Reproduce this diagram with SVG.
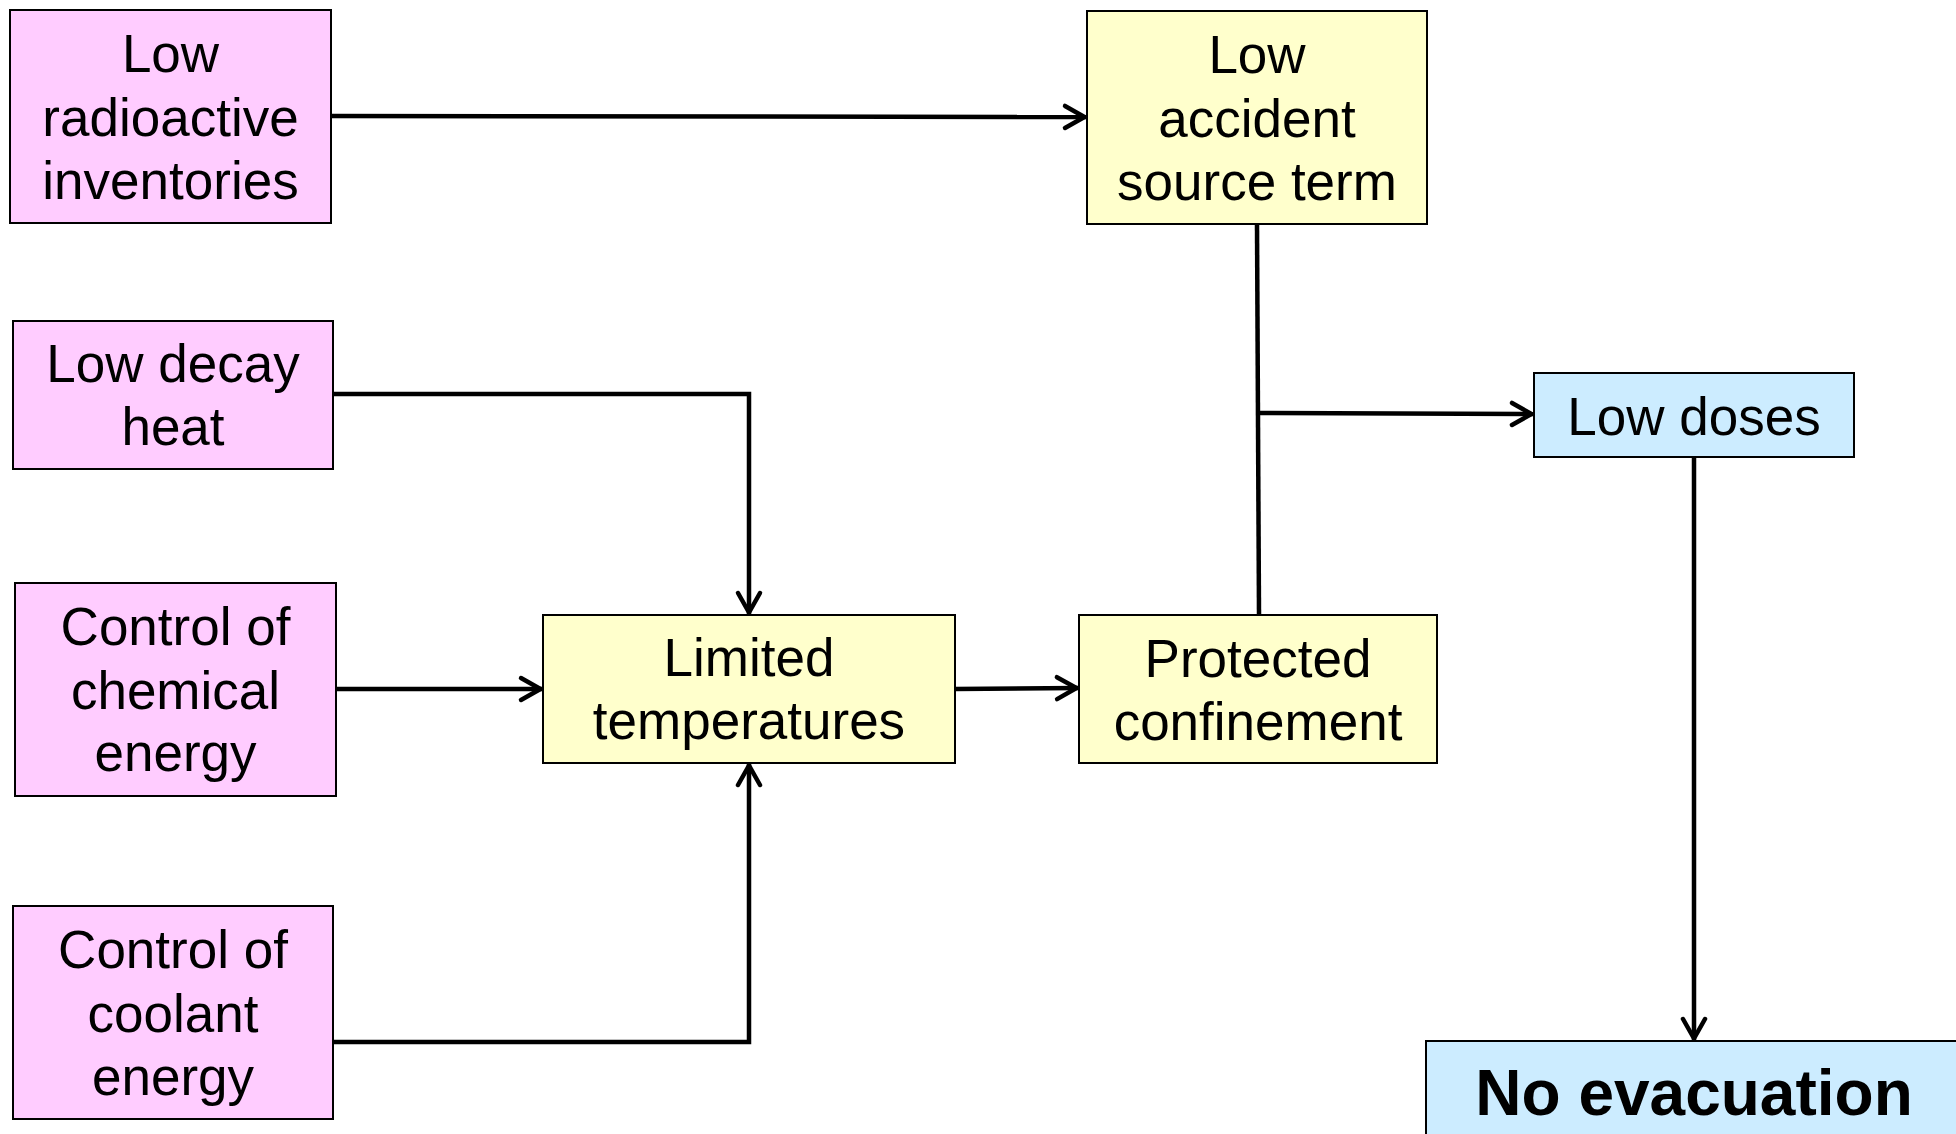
<svg xmlns="http://www.w3.org/2000/svg" width="1956" height="1134" viewBox="0 0 1956 1134">
<style>
.box{stroke:#000;stroke-width:2}
.pink{fill:#FFCCFF}
.yellow{fill:#FFFFCC}
.blue{fill:#CCECFF}
.t{font-family:"Liberation Sans",Arial,sans-serif;font-size:53px;fill:#000;text-anchor:middle}
.b{font-family:"Liberation Sans",Arial,sans-serif;font-size:64px;font-weight:bold;fill:#000;text-anchor:middle}
.c{fill:none;stroke:#000;stroke-width:4.5;stroke-linejoin:miter}
</style>
<defs>
<marker id="arr" markerUnits="userSpaceOnUse" viewBox="-28 -16 32 32" refX="0" refY="0" markerWidth="32" markerHeight="32" orient="auto" overflow="visible">
<path d="M-21,-11 L-1.5,0 L-21,11" fill="none" stroke="#000" stroke-width="4.5" stroke-linecap="round" stroke-linejoin="miter"/>
</marker>
</defs>
<rect width="1956" height="1134" fill="#fff"/>
<g id="connectors">
<path class="c" d="M331,116 L1086,117" marker-end="url(#arr)"/>
<path class="c" d="M333,394 L749,394 L749,614" marker-end="url(#arr)"/>
<path class="c" d="M336,689 L542,689" marker-end="url(#arr)"/>
<path class="c" d="M331,1042 L749,1042 L749,764" marker-end="url(#arr)"/>
<path class="c" d="M955,689 L1078,688" marker-end="url(#arr)"/>
<path class="c" d="M1257,224 L1259,615"/>
<path class="c" d="M1259,413 L1533,414" marker-end="url(#arr)"/>
<path class="c" d="M1694,457 L1694,1040" marker-end="url(#arr)"/>
</g>
<g id="node-inventories">
<rect class="box pink" x="10" y="10" width="321" height="213"/>
<text class="t" x="170.5" y="72">Low</text>
<text class="t" x="170.5" y="135.5">radioactive</text>
<text class="t" x="170.5" y="199">inventories</text>
</g>
<g id="node-decay-heat">
<rect class="box pink" x="13" y="321" width="320" height="148"/>
<text class="t" x="173" y="382">Low decay</text>
<text class="t" x="173" y="445">heat</text>
</g>
<g id="node-chemical">
<rect class="box pink" x="15" y="583" width="321" height="213"/>
<text class="t" x="175.5" y="645">Control of</text>
<text class="t" x="175.5" y="708.5">chemical</text>
<text class="t" x="175.5" y="771">energy</text>
</g>
<g id="node-coolant">
<rect class="box pink" x="13" y="906" width="320" height="213"/>
<text class="t" x="173" y="968">Control of</text>
<text class="t" x="173" y="1031.5">coolant</text>
<text class="t" x="173" y="1095">energy</text>
</g>
<g id="node-source-term">
<rect class="box yellow" x="1087" y="11" width="340" height="213"/>
<text class="t" x="1257" y="73">Low</text>
<text class="t" x="1257" y="136.5">accident</text>
<text class="t" x="1257" y="200">source term</text>
</g>
<g id="node-temperatures">
<rect class="box yellow" x="543" y="615" width="412" height="148"/>
<text class="t" x="749" y="676">Limited</text>
<text class="t" x="749" y="739">temperatures</text>
</g>
<g id="node-confinement">
<rect class="box yellow" x="1079" y="615" width="358" height="148"/>
<text class="t" x="1258" y="677">Protected</text>
<text class="t" x="1258" y="740">confinement</text>
</g>
<g id="node-low-doses">
<rect class="box blue" x="1534" y="373" width="320" height="84"/>
<text class="t" x="1694" y="435">Low doses</text>
</g>
<g id="node-no-evacuation">
<rect class="box blue" x="1426" y="1041" width="540" height="120"/>
<text class="b" x="1694" y="1115">No evacuation</text>
</g>
</svg>
